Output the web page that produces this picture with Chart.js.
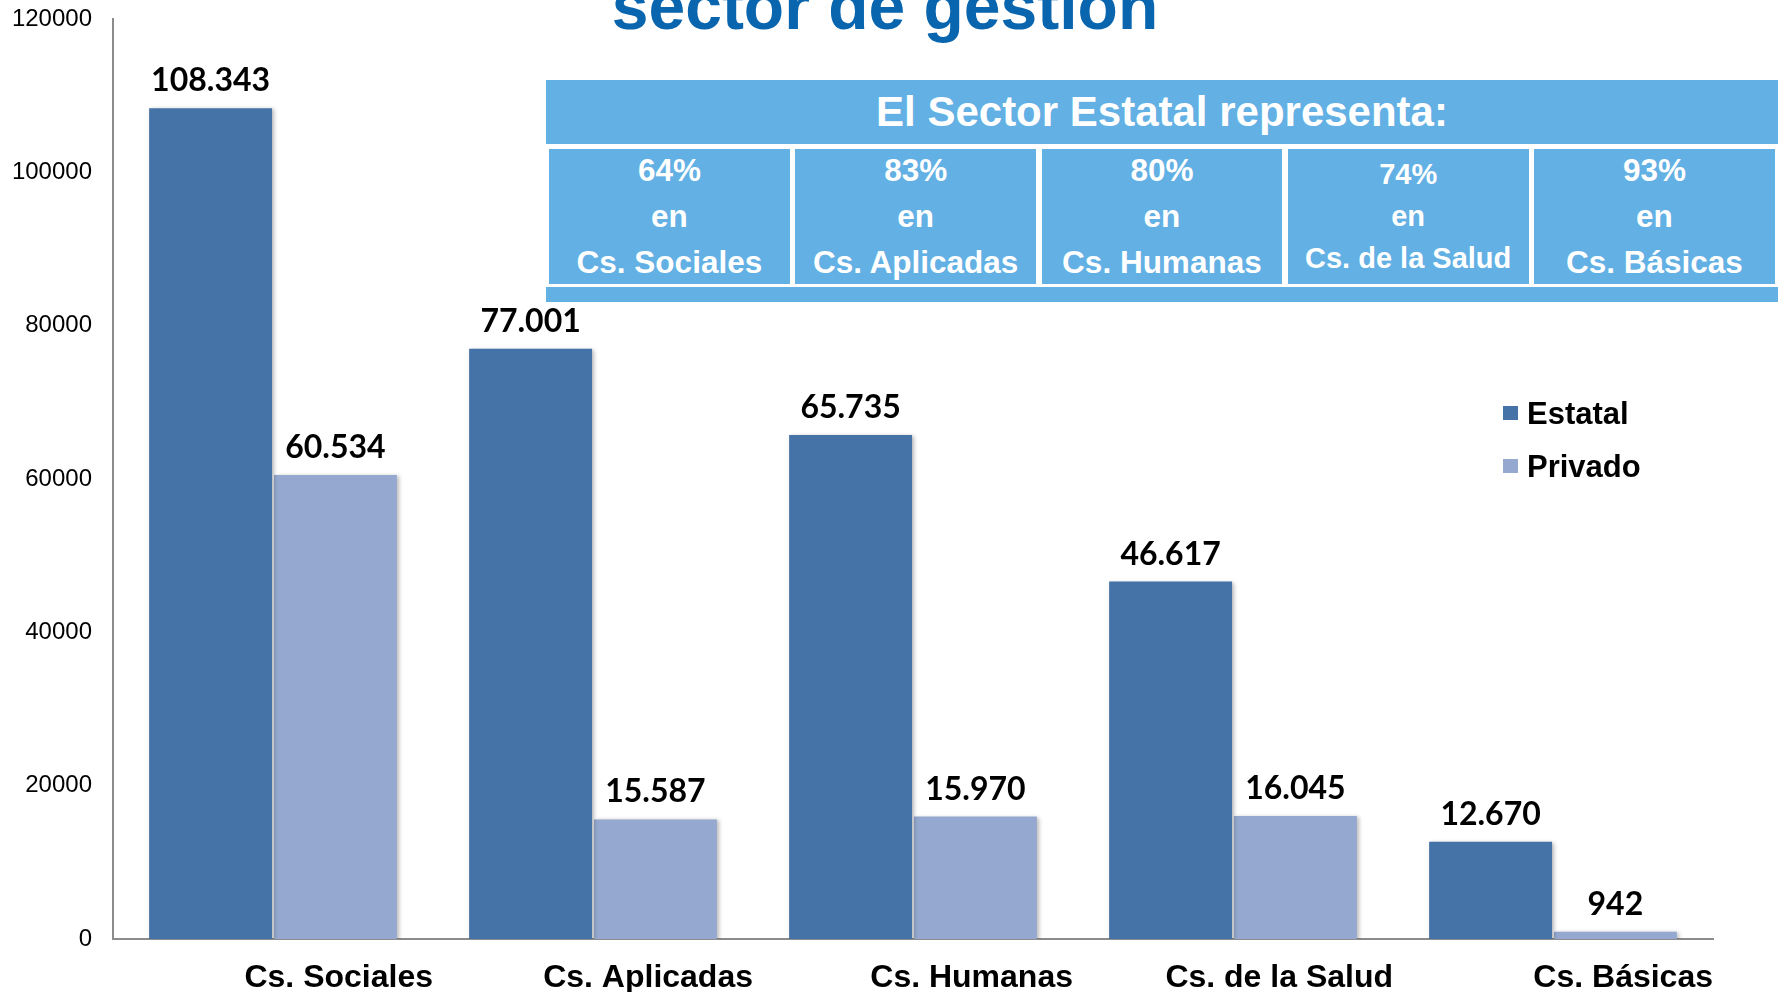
<!DOCTYPE html>
<html><head><meta charset="utf-8">
<script src="https://cdn.jsdelivr.net/npm/chart.js@4.4.1/dist/chart.umd.min.js"></script>
<style>
html,body{margin:0;padding:0;background:#fff;overflow:hidden}
#wrap{position:relative;width:1782px;height:992px;overflow:hidden}
canvas{position:absolute;left:0;top:0}
.t{position:absolute;font-family:"Liberation Sans",Arial,sans-serif;font-weight:bold;white-space:nowrap}
#title{left:0;width:1770px;top:-27px;font-size:66px;line-height:66px;text-align:center;color:#0865ae}
#box{position:absolute;left:546px;top:80px;width:1232px;height:222px;background:#62b0e4}
#band{position:absolute;left:0;top:64px;width:1232px;height:143px;background:#fff}
#head{left:0;top:12px;width:1232px;font-size:42px;line-height:40px;text-align:center;color:#fff}
.cell{position:absolute;top:69px;height:135px;background:#62b0e4}
.cell .t{left:0;width:100%;text-align:center;color:#fff}
</style></head>
<body><div id="wrap"><canvas id="c" width="1782" height="992"></canvas>
<div id="title" class="t">sector de gestión</div>
<div id="box"><div id="band"></div><div id="head" class="t">El Sector Estatal representa:</div></div>
</div>
<script>
const categories = ['Cs. Sociales', 'Cs. Aplicadas', 'Cs. Humanas', 'Cs. de la Salud', 'Cs. Básicas'];
const estatal = [108343, 77001, 65735, 46617, 12670];
const privado = [60534, 15587, 15970, 16045, 942];
const seriesNames = ['Estatal', 'Privado'];
const sharePct = ['64%', '83%', '80%', '74%', '93%'];
const shareWord = ['en', 'en', 'en', 'en', 'en'];
const shareField = ['Cs. Sociales', 'Cs. Aplicadas', 'Cs. Humanas', 'Cs. de la Salud', 'Cs. Básicas'];
const yMin = 0, yMax = 120000, yStep = 20000;

const colors = ['#4573a7', '#95a9d0'];

// table cells
const box = document.getElementById('box');
sharePct.forEach((p, i) => {
  const cell = document.createElement('div');
  cell.className = 'cell';
  cell.style.left = (3 + i * 246.25) + 'px';
  cell.style.width = '240.8px';
  const small = shareField[i].length > 13;
  const fs = small ? 29 : 31.5, lh = small ? 42 : 46, top = small ? 3.9 : -2.2;
  [p, shareWord[i], shareField[i]].forEach((txt, k) => {
    const d = document.createElement('div');
    d.className = 't';
    d.textContent = txt;
    d.style.fontSize = fs + 'px';
    d.style.lineHeight = lh + 'px';
    d.style.top = (top + k * lh) + 'px';
    cell.appendChild(d);
  });
  box.appendChild(cell);
});

function fmt(v) { return String(v).replace(/\B(?=(\d{3})+(?!\d))/g, '.'); }

const shadowPlugin = {
  id: 'shadow',
  beforeDatasetsDraw(chart) {
    const ctx = chart.ctx; ctx.save();
    ctx.shadowColor = 'rgba(0,0,0,0.28)'; ctx.shadowBlur = 4; ctx.shadowOffsetX = 2; ctx.shadowOffsetY = 1;
  },
  afterDatasetsDraw(chart) {
    const ctx = chart.ctx; ctx.restore();
    ctx.save();
    ctx.font = 'bold 32px Lato, "Open Sans", sans-serif';
    ctx.fillStyle = '#000'; ctx.textAlign = 'center'; ctx.textBaseline = 'alphabetic';
    chart.data.datasets.forEach((ds, i) => {
      chart.getDatasetMeta(i).data.forEach((bar, j) => {
        ctx.fillText(fmt(ds.data[j]), bar.x, bar.y - 17);
      });
    });
    ctx.restore();
  },
  afterDraw(chart) {
    const ctx = chart.ctx; ctx.save();
    ctx.font = 'bold 31px "Liberation Sans", Arial, sans-serif';
    ctx.textBaseline = 'alphabetic'; ctx.textAlign = 'left';
    seriesNames.forEach((n, i) => {
      const y = 406 + i * 53;
      ctx.fillStyle = colors[i]; ctx.fillRect(1503, y, 15, 14);
      ctx.fillStyle = '#000'; ctx.fillText(n, 1527, y + 18);
    });
    ctx.restore();
  }
};

new Chart(document.getElementById('c'), {
  type: 'bar',
  data: {
    labels: categories,
    datasets: [
      { label: seriesNames[0], data: estatal, backgroundColor: colors[0] },
      { label: seriesNames[1], data: privado, backgroundColor: colors[1] }
    ]
  },
  options: {
    responsive: false,
    animation: false,
    layout: { padding: { top: 19, right: 69, left: 0, bottom: 0 } },
    datasets: { bar: { categoryPercentage: 0.78, barPercentage: 0.985 } },
    plugins: { legend: { display: false }, tooltip: { enabled: false } },
    scales: {
      x: {
        grid: { display: false, drawTicks: false },
        border: { display: true, color: '#8c8c8c', width: 2 },
        ticks: { color: '#000', font: { family: '"Liberation Sans", Arial, sans-serif', size: 32, weight: 'bold' },
                 align: 'end', labelOffset: 160, padding: 20, maxRotation: 0, autoSkip: false },
        afterFit(s) { s.height = 53; s.paddingLeft = 0; s.paddingRight = 0; }
      },
      y: {
        min: yMin, max: yMax,
        grid: { display: false, drawTicks: false },
        border: { display: true, color: '#8c8c8c', width: 2 },
        ticks: { stepSize: yStep, color: '#000', padding: 21, callback: v => String(v),
                 font: { family: '"Liberation Sans", Arial, sans-serif', size: 24 } },
        afterFit(s) { s.width = 113; s.paddingTop = 0; s.paddingBottom = 0; }
      }
    }
  },
  plugins: [shadowPlugin]
});
</script>
</body></html>
